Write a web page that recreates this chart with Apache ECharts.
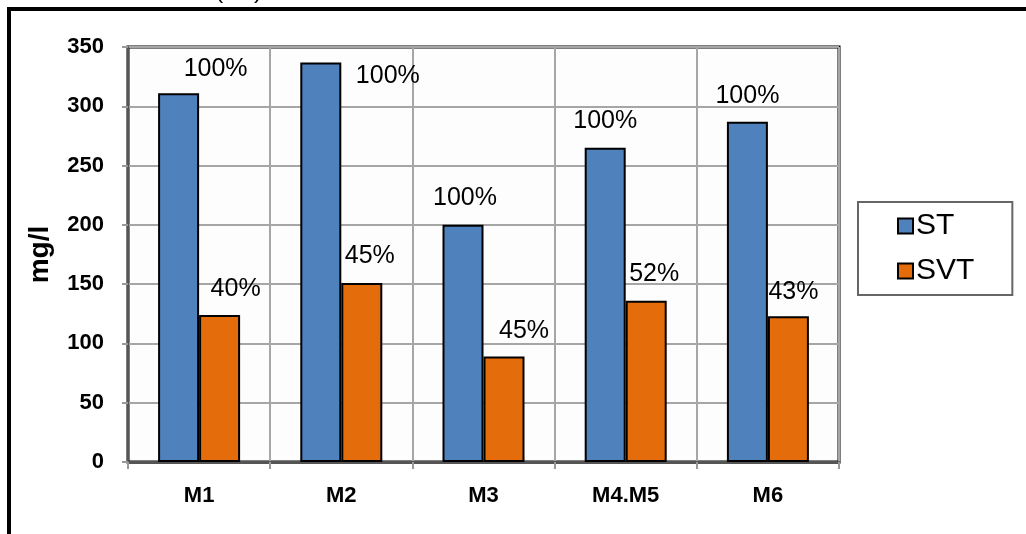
<!DOCTYPE html>
<html>
<head>
<meta charset="utf-8">
<script src="https://cdn.jsdelivr.net/npm/echarts@6/dist/echarts.min.js"></script>
<style>
  html, body { margin: 0; padding: 0; background: #fff; }
  #main { width: 1026px; height: 534px; }
</style>
</head>
<body>
<div id="main"></div>
<script>
var categories = ['M1', 'M2', 'M3', 'M4.M5', 'M6'];
var stValues = [311, 337, 200, 265, 287];
var svtValues = [124, 151, 89, 136, 123];
var stPct = ['100%', '100%', '100%', '100%', '100%'];
var svtPct = ['40%', '45%', '45%', '52%', '43%'];
var yTicks = { min: 0, max: 350, interval: 50 };

// where Excel left each percentage label (offset from the bar top)
var stLabelOffset = [[37, -7], [67, 31], [2, -9], [0, -9], [0, -8]];
var svtLabelOffset = [[16, -8], [8, -9], [20, -8], [8, -9], [5, -7]];

var labelFont = { fontFamily: 'Arial, "Liberation Sans"', fontSize: 25, color: '#000' };

function withLabels(values, pct, offsets) {
    return values.map(function (v, i) {
        return {
            value: v,
            label: { formatter: pct[i], offset: offsets[i] }
        };
    });
}

var myChart = echarts.init(document.getElementById('main'));
option = {
    animation: false,
    backgroundColor: '#fff',
    textStyle: { fontFamily: 'Arial, "Liberation Sans"' },
    graphic: [
        {
            type: 'rect',
            shape: { x: 9, y: 9, width: 1100, height: 600 },
            style: { fill: 'none', stroke: '#000', lineWidth: 4 },
            z: 10
        },
        {
            type: 'text',
            x: 262,
            y: 3,
            style: {
                text: 'Sólidos totales (ST)',
                fontFamily: 'Arial, "Liberation Sans"',
                fontSize: 24,
                fill: '#000',
                align: 'right',
                verticalAlign: 'bottom'
            }
        }
    ],
    grid: {
        left: 128,
        right: 187,
        top: 47,
        bottom: 72,
        show: true,
        backgroundColor: '#fdfdfd',
        borderColor: '#000',
        borderWidth: 3
    },
    legend: {
        orient: 'vertical',
        left: 858,
        top: 202,
        padding: [9, 38, 9, 39],
        itemWidth: 15,
        itemHeight: 15,
        itemGap: 15,
        borderColor: '#666',
        borderWidth: 2,
        icon: 'rect',
        itemStyle: { borderColor: '#000', borderWidth: 2 },
        textStyle: { fontSize: 30, color: '#000', lineHeight: 30, padding: [0, 0, 0, -2] },
        data: ['ST', 'SVT']
    },
    xAxis: {
        type: 'category',
        data: categories,
        axisLine: { lineStyle: { color: '#555', width: 3 } },
        axisTick: { show: true, length: 7, lineStyle: { color: '#999', width: 2 } },
        axisLabel: { fontSize: 22, fontWeight: 'bold', color: '#000', margin: 23 },
        splitLine: { show: true, lineStyle: { color: '#a6a6a6', width: 2 } }
    },
    yAxis: {
        type: 'value',
        min: yTicks.min,
        max: yTicks.max,
        interval: yTicks.interval,
        name: 'mg/l',
        nameLocation: 'middle',
        nameGap: 74,
        nameRotate: 90,
        nameTextStyle: { fontSize: 28, fontWeight: 'bold', color: '#000' },
        axisLine: { show: true, lineStyle: { color: '#555', width: 2 } },
        axisTick: { show: true, length: 6, lineStyle: { color: '#999', width: 2 } },
        axisLabel: { fontSize: 22, fontWeight: 'bold', color: '#000', margin: 24 },
        splitLine: { show: true, lineStyle: { color: '#a6a6a6', width: 2 } }
    },
    series: [
        {
            name: 'ST',
            type: 'bar',
            barWidth: 41,
            barGap: '0%',
            itemStyle: { color: '#4f81bd', borderColor: '#000', borderWidth: 2 },
            label: Object.assign({ show: true, position: 'top', distance: 5 }, labelFont),
            data: withLabels(stValues, stPct, stLabelOffset)
        },
        {
            name: 'SVT',
            type: 'bar',
            barWidth: 41,
            barGap: '0%',
            itemStyle: { color: '#e46c0a', borderColor: '#000', borderWidth: 2 },
            label: Object.assign({ show: true, position: 'top', distance: 5 }, labelFont),
            data: withLabels(svtValues, svtPct, svtLabelOffset)
        }
    ]
};
myChart.setOption(option);
</script>
</body>
</html>
